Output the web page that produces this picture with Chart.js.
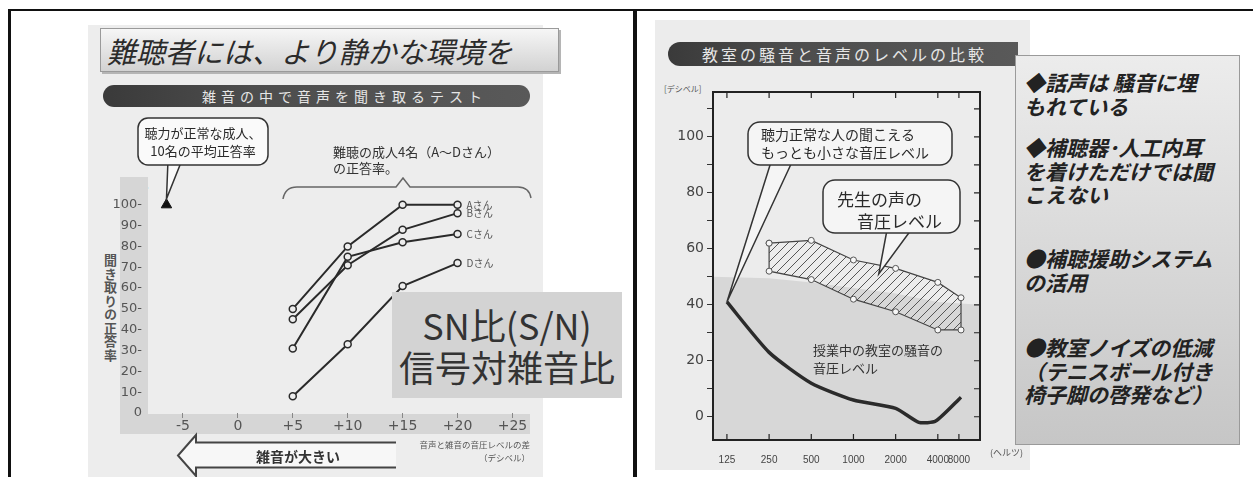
<!DOCTYPE html>
<html lang="ja">
<head>
<meta charset="utf-8">
<script src="https://cdn.jsdelivr.net/npm/chart.js@4.4.0/dist/chart.umd.min.js"></script>
<style>
  body { margin: 0; background: #fff; font-family: "Noto Sans CJK JP", sans-serif; }
  #page { position: relative; width: 1253px; height: 477px; overflow: hidden; background: #fff; }
  .abs { position: absolute; }
  .line { position: absolute; background: #111; }
  #leftBg { left: 88px; top: 25px; width: 455px; height: 452px; background: #ededed; }
  #rightBg { left: 655px; top: 20px; width: 375px; height: 450px; background: #ececec; }
  #title { left: 100px; top: 28px; width: 451px; height: 42px; border: 1px solid #9a9a9a;
    background: linear-gradient(to bottom, #f6f6f6, #d2d2d2); box-shadow: 2px 2px 0 #b5b5b5;
    font-size: 29px; font-style: italic; color: #2b2b2b; line-height: 42px; padding-left: 6px; box-sizing: content-box; white-space: nowrap; }
  .pill { height: 22px; border-radius: 11px; color: #e6e6e6; white-space: nowrap;
    background: linear-gradient(to right, #3a3a3a, #4d4d4d 35%, #595959); }
  #pillL { left: 103px; top: 85px; width: 427px; font-size: 14px; letter-spacing: 5px; line-height: 22px; padding-left: 99px; box-sizing: border-box; }
  #pillR { left: 668px; top: 42px; width: 350px; height: 24px; border-radius: 12px 0 0 12px; font-size: 16px; letter-spacing: 3px; line-height: 24px; padding-left: 34px; box-sizing: border-box; }
  #ytitle { left: 101px; top: 254px; writing-mode: vertical-rl; font-size: 13px; font-weight: bold; color: #555; letter-spacing: 0.5px; }
  #pct { left: 138px; top: 180px; font-size: 11px; color: #555; font-family: "DejaVu Sans", sans-serif; }
  #snBox { left: 392px; top: 292px; width: 230px; height: 106px; background: #d3d3d3; color: #333;
    display: flex; flex-direction: column; align-items: center; justify-content: center; font-size: 36px; line-height: 42px; }
  #arrowTxt { left: 256px; top: 446px; font-size: 14px; font-weight: bold; color: #333; }
  #xtitle { left: 400px; top: 438px; width: 130px; text-align: right; font-size: 8.5px; line-height: 13px; color: #555; }
  #dbUnit { left: 664px; top: 83px; font-size: 8px; color: #555; }
  #hzUnit { left: 990px; top: 446px; font-size: 9px; color: #555; }
  #note { left: 1015px; top: 55px; width: 225px; height: 390px; border: 1px solid #9a9a9a; box-sizing: border-box;
    background: linear-gradient(to bottom, #ececec, #c6c6c6); }
  .para { position: absolute; left: 8px; font-size: 21px; line-height: 23.5px; font-style: italic; font-weight: bold; color: #222; white-space: nowrap; }
</style>
</head>
<body>
<div id="page">
  <div class="abs" id="leftBg"></div>
  <div class="abs" id="rightBg"></div>

  <div class="abs" id="title">難聴者には、より静かな環境を</div>
  <div class="abs pill" id="pillL">雑音の中で音声を聞き取るテスト</div>
  <div class="abs" id="ytitle">聞き取りの正答率</div>
  <div class="abs" id="pct">%</div>

  <canvas id="snrChart" class="abs" style="left:88px;top:110px" width="460" height="367"></canvas>

  <svg class="abs" style="left:0;top:0" width="600" height="477">
    <polyline points="396,442.5 196,442.5 196,435 178,455.5 196,476 196,467.5 396,467.5"
      fill="#f7f7f7" stroke="#444" stroke-width="2"/>
  </svg>
  <div class="abs" id="arrowTxt">雑音が大きい</div>
  <div class="abs" id="xtitle">音声と雑音の音圧レベルの差<br>（デシベル）</div>
  <div class="abs" id="snBox"><div>SN比(S/N)</div><div>信号対雑音比</div></div>

  <div class="abs pill" id="pillR">教室の騒音と音声のレベルの比較</div>
  <div class="abs" id="dbUnit">[デシベル]</div>
  <canvas id="roomChart" class="abs" style="left:655px;top:70px" width="360" height="400"></canvas>
  <div class="abs" id="hzUnit">(ヘルツ)</div>

  <div class="abs" id="note">
    <div class="para" style="top:15px">◆話声は 騒音に埋<br>もれている</div>
    <div class="para" style="top:80px">◆補聴器･人工内耳<br>を着けただけでは聞<br>こえない</div>
    <div class="para" style="top:191px">●補聴援助システム<br>の活用</div>
    <div class="para" style="top:280px">●教室ノイズの低減<br>（テニスボール付き<br>椅子脚の啓発など）</div>
  </div>

  <div class="line" style="left:8px;top:9px;width:1245px;height:2px"></div>
  <div class="line" style="left:8px;top:9px;width:3px;height:468px"></div>
  <div class="line" style="left:633px;top:9px;width:4px;height:468px"></div>
</div>

<script>
// left chart: speech recognition score vs S/N
const snrTicks = [-5, 0, 5, 10, 15, 20, 25];
const pctTicks = [0, 10, 20, 30, 40, 50, 60, 70, 80, 90, 100];
const snrLevels = [5, 10, 15, 20];
const subjectNames = ['Aさん', 'Bさん', 'Cさん', 'Dさん'];
const scoreA = [50, 80, 100, 100];
const scoreB = [45, 71, 88, 96];
const scoreC = [31, 75, 82, 86];
const scoreD = [8, 33, 61, 72];
const normalSnr = [-6.5];
const normalScore = [100];

// right chart: classroom noise vs voice level
const freqLabels = ['125', '250', '500', '1000', '2000', '4000', '8000'];
const freqPos = [0, 1, 2, 3, 4, 5, 5.5];
const dbTicks = [0, 10, 20, 30, 40, 50, 60, 70, 80, 90, 100, 110];
const thresholdX = [0, 1, 2, 3, 4, 4.55, 4.95, 5.55];
const thresholdDb = [41, 23, 12, 6, 3, -2, -1.5, 7];
const voiceX = [1, 2, 3, 4, 5, 5.55];
const voiceHigh = [62, 63, 56, 53, 48, 42.5];
const voiceLow = [52, 49, 42, 37.5, 31, 31];
const noiseX = [-0.33, 1, 2, 3, 4, 5, 6];
const noiseDb = [50, 49.5, 48, 46, 44, 41, 40];

Chart.defaults.font.family = '"Noto Sans CJK JP", sans-serif';
Chart.defaults.animation = false;

const pts = (xs, ys) => xs.map((x, i) => ({ x, y: ys[i] }));

function roundBox(ctx, x, y, w, h, r, fill) {
  ctx.beginPath();
  ctx.roundRect(x, y, w, h, r);
  ctx.fillStyle = fill;
  ctx.fill();
  ctx.stroke();
}

function tail(ctx, x1, x2, yb, tx, ty, fill) {
  ctx.beginPath();
  ctx.moveTo(x1, yb);
  ctx.lineTo(tx, ty);
  ctx.lineTo(x2, yb);
  ctx.fillStyle = fill;
  ctx.fill();
  ctx.stroke();
}

const leftDeco = {
  id: 'leftDeco',
  beforeDraw(chart) {
    const ctx = chart.ctx;
    ctx.save();
    ctx.fillStyle = '#d6d6d6';
    ctx.fillRect(32, 67, 28, 257);
    ctx.fillRect(32, 304, chart.chartArea.right - 32, 20);
    ctx.restore();
  },
  afterDraw(chart) {
    const { ctx, scales: { x, y } } = chart;
    ctx.save();
    ctx.strokeStyle = '#333';
    ctx.lineWidth = 1.5;
    // callout to the normal-hearing triangle
    const tx = x.getPixelForValue(normalSnr[0]);
    const ty = y.getPixelForValue(normalScore[0]) - 6;
    tail(ctx, 80, 94, 50, tx, ty, '#fafafa');
    roundBox(ctx, 50, 8, 130, 47, 10, '#fafafa');
    ctx.fillStyle = '#2a2a2a';
    ctx.font = '13px "Noto Sans CJK JP"';
    ctx.textAlign = 'center';
    ctx.textBaseline = 'middle';
    ctx.fillText('聴力が正常な成人、', 115, 23);
    ctx.fillText('10名の平均正答率', 115, 41);

    // brace over the four subjects
    ctx.strokeStyle = '#666';
    ctx.beginPath();
    ctx.moveTo(195, 89);
    ctx.quadraticCurveTo(197, 77, 209, 77);
    ctx.lineTo(308, 77);
    ctx.lineTo(315, 68);
    ctx.lineTo(322, 77);
    ctx.lineTo(430, 77);
    ctx.quadraticCurveTo(441, 77, 443, 88);
    ctx.stroke();
    ctx.textAlign = 'left';
    ctx.fillStyle = '#333';
    ctx.fillText('難聴の成人4名（A～Dさん）', 245, 42);
    ctx.fillText('の正答率。', 245, 58);

    // subject names at line ends
    ctx.font = '10px "Noto Sans CJK JP"';
    ctx.fillStyle = '#555';
    chart.data.datasets.forEach((ds, i) => {
      if (!subjectNames[i]) return;
      const last = ds.data[ds.data.length - 1];
      ctx.fillText(subjectNames[i], x.getPixelForValue(last.x) + 9, y.getPixelForValue(last.y));
    });
    ctx.restore();
  }
};

const lineStyle = {
  borderColor: '#2a2a2a',
  borderWidth: 2,
  pointRadius: 3.5,
  pointBackgroundColor: '#ededed',
  pointBorderColor: '#2a2a2a',
  pointBorderWidth: 1.5,
  tension: 0
};

new Chart(document.getElementById('snrChart'), {
  type: 'line',
  data: {
    datasets: [
      { label: subjectNames[0], data: pts(snrLevels, scoreA), ...lineStyle },
      { label: subjectNames[1], data: pts(snrLevels, scoreB), ...lineStyle },
      { label: subjectNames[2], data: pts(snrLevels, scoreC), ...lineStyle },
      { label: subjectNames[3], data: pts(snrLevels, scoreD), ...lineStyle },
      { label: 'normal', data: pts(normalSnr, normalScore), showLine: false,
        pointStyle: 'triangle', pointRadius: 6, pointBackgroundColor: '#111', pointBorderColor: '#111' }
    ]
  },
  options: {
    responsive: false,
    devicePixelRatio: 1,
    layout: { padding: { top: 74, right: 18, left: 0, bottom: 0 } },
    plugins: { legend: { display: false }, tooltip: { enabled: false } },
    scales: {
      x: {
        type: 'linear', min: -8, max: 26.6,
        afterBuildTicks: s => { s.ticks = snrTicks.map(v => ({ value: v })); },
        afterFit: s => { s.height = 64; },
        grid: { drawOnChartArea: false, drawTicks: true, tickLength: 5, color: '#888' },
        border: { display: false },
        ticks: { padding: 0, color: '#555', font: { family: '"DejaVu Sans"', size: 14 },
          callback: v => (v > 0 ? '+' + v : String(v)) }
      },
      y: {
        min: 0, max: 110,
        afterBuildTicks: s => { s.ticks = pctTicks.map(v => ({ value: v })); },
        afterFit: s => { s.width = 62; },
        grid: { display: false },
        border: { display: false },
        ticks: { padding: 0, color: '#555', font: { family: '"DejaVu Sans"', size: 13 },
          callback: v => (v === 0 ? '0' : v + '-') }
      }
    }
  },
  plugins: [leftDeco]
});

// hatch for the teacher's voice band
const hatch = document.createElement('canvas');
hatch.width = 9; hatch.height = 9;
const hctx = hatch.getContext('2d');
hctx.strokeStyle = '#555';
hctx.lineWidth = 1;
hctx.beginPath();
hctx.moveTo(0, 9); hctx.lineTo(9, 0);
hctx.moveTo(-1, 1); hctx.lineTo(1, -1);
hctx.moveTo(8, 10); hctx.lineTo(10, 8);
hctx.stroke();
const hatchPattern = hctx.createPattern(hatch, 'repeat');

const voiceOutline = pts(voiceX, voiceHigh)
  .concat(pts(voiceX, voiceLow).reverse())
  .concat(pts(voiceX.slice(0, 1), voiceHigh.slice(0, 1)));

const voiceCallout = { x: 3.6, y: 51 };

const rightDeco = {
  id: 'rightDeco',
  afterDraw(chart) {
    const { ctx, chartArea: a, scales: { x, y } } = chart;
    ctx.save();
    ctx.strokeStyle = '#222';
    ctx.lineWidth = 2;
    ctx.strokeRect(a.left, a.top, a.right - a.left, a.bottom - a.top);
    ctx.lineWidth = 1.2;
    ctx.beginPath();
    freqPos.forEach(p => {
      const px = x.getPixelForValue(p);
      ctx.moveTo(px, a.top); ctx.lineTo(px, a.top + 6);
      ctx.moveTo(px, a.bottom); ctx.lineTo(px, a.bottom - 6);
    });
    dbTicks.forEach(v => {
      const py = y.getPixelForValue(v);
      ctx.moveTo(a.right, py); ctx.lineTo(a.right - 6, py);
    });
    ctx.stroke();

    // threshold callout
    ctx.strokeStyle = '#333';
    ctx.lineWidth = 1.5;
    const tx = x.getPixelForValue(thresholdX[0]);
    const ty = y.getPixelForValue(thresholdDb[0]);
    tail(ctx, 116, 137, 92, tx, ty, '#f5f5f5');
    roundBox(ctx, 93, 52, 204, 43, 12, '#f5f5f5');
    ctx.fillStyle = '#2a2a2a';
    ctx.font = '14px "Noto Sans CJK JP"';
    ctx.textBaseline = 'middle';
    ctx.fillText('聴力正常な人の聞こえる', 106, 65);
    ctx.fillText('もっとも小さな音圧レベル', 106, 83);

    // teacher voice callout
    const vx = x.getPixelForValue(voiceCallout.x);
    const vy = y.getPixelForValue(voiceCallout.y);
    tail(ctx, 232, 256, 160, vx, vy, '#f5f5f5');
    roundBox(ctx, 168, 110, 137, 53, 12, '#f5f5f5');
    ctx.fillStyle = '#2a2a2a';
    ctx.font = '17px "Noto Sans CJK JP"';
    ctx.fillText('先生の声の', 182, 130);
    ctx.fillText('音圧レベル', 202, 152);

    ctx.font = '13px "Noto Sans CJK JP"';
    ctx.fillStyle = '#333';
    ctx.fillText('授業中の教室の騒音の', 158, 280);
    ctx.fillText('音圧レベル', 158, 298);
    ctx.restore();
  }
};

new Chart(document.getElementById('roomChart'), {
  type: 'line',
  data: {
    datasets: [
      { label: 'threshold', data: pts(thresholdX, thresholdDb), order: 1,
        borderColor: '#2b2b2b', borderWidth: 3.5, pointRadius: 0, tension: 0.2, fill: false },
      { label: 'voiceOutline', data: voiceOutline, order: 2,
        borderColor: '#444', borderWidth: 1.2, pointRadius: 3, pointBackgroundColor: '#f7f7f7',
        pointBorderColor: '#555', pointBorderWidth: 1, fill: false },
      { label: 'voiceHigh', data: pts(voiceX, voiceHigh), order: 3,
        borderWidth: 0, pointRadius: 0, backgroundColor: hatchPattern, fill: '+1' },
      { label: 'voiceLow', data: pts(voiceX, voiceLow), order: 3,
        borderWidth: 0, pointRadius: 0, fill: false },
      { label: 'noise', data: pts(noiseX, noiseDb), order: 5,
        borderWidth: 0, pointRadius: 0, backgroundColor: '#d7d7d7', fill: 'start' }
    ]
  },
  options: {
    responsive: false,
    devicePixelRatio: 1,
    layout: { padding: { top: 22, right: 35, left: 0, bottom: 0 } },
    plugins: { legend: { display: false }, tooltip: { enabled: false } },
    scales: {
      x: {
        type: 'linear', min: -0.33, max: 6,
        afterBuildTicks: s => { s.ticks = freqPos.map(v => ({ value: v })); },
        afterFit: s => { s.height = 30; },
        grid: { display: false },
        border: { display: false },
        ticks: { padding: 6, color: '#444', font: { family: '"Liberation Sans"', size: 10 },
          callback: (v, i) => freqLabels[i] }
      },
      y: {
        min: -8.3, max: 116,
        afterBuildTicks: s => { s.ticks = dbTicks.map(v => ({ value: v })); },
        afterFit: s => { s.width = 58; },
        grid: { drawOnChartArea: false, drawTicks: true, tickLength: 6, color: '#333' },
        border: { display: false },
        ticks: { padding: 3, color: '#444', font: { family: '"DejaVu Sans"', size: 14 },
          callback: v => (v % 20 === 0 && v <= 100 ? String(v) : '') }
      }
    }
  },
  plugins: [rightDeco]
});
</script>
</body>
</html>
